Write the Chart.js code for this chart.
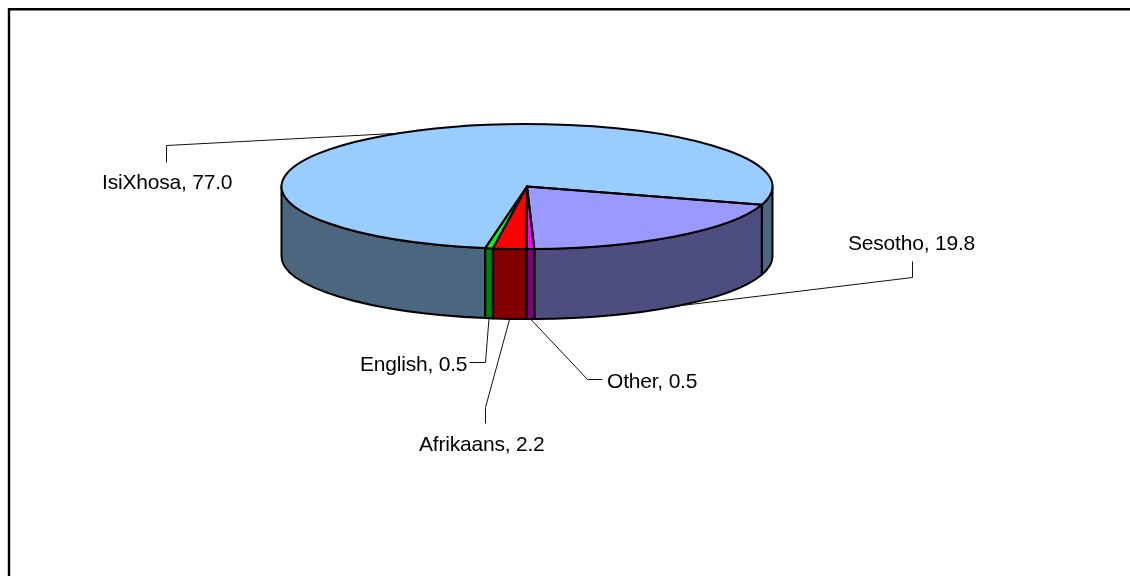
<!DOCTYPE html>
<html>
<head>
<meta charset="utf-8">
<title>Home language</title>
<script src="https://cdn.jsdelivr.net/npm/chart.js@4/dist/chart.umd.min.js"></script>
<style>
    html, body { margin: 0; padding: 0; background: #fff; }
    canvas { display: block; }
</style>
</head>
<body>
<canvas id="pie" width="1130" height="576"></canvas>
<script>
// --- data ---
const categories = ['IsiXhosa', 'Sesotho', 'Other', 'Afrikaans', 'English'];
const shares = [77.0, 19.8, 0.5, 2.2, 0.5];

// --- colours ---
const topColors = ['#99CCFF', '#9999FF', '#FF00FF', '#FF0000', '#00FF00'];
const sideColors = ['#4D6680', '#4D4D80', '#800080', '#800000', '#008000'];

// --- layout of the fake 3D pie ---
const CENTER_Y = 186.5;
const SQUASH = 62.5 / 245.5;
const DEPTH = 70;
const FONT = '21px "Liberation Sans", Arial, sans-serif';

// text position + leader line elbows, same order as categories
// onTop: the leader starts on the top rim instead of the bottom rim
const labelSpots = [
    { x: 102, y: 189, elbows: [[166, 145], [166, 162]], onTop: true },
    { x: 848, y: 250, elbows: [[912, 277], [912, 261]] },
    { x: 607, y: 388, elbows: [[587, 379], [602, 379]] },
    { x: 419, y: 451, elbows: [[485, 407], [485, 423]] },
    { x: 360, y: 371, elbows: [[485, 362], [469, 362]] }
];

function sidePath(ctx, cx, rx, ry, a, b) {
    ctx.beginPath();
    ctx.ellipse(cx, CENTER_Y, rx, ry, 0, a, b);
    ctx.lineTo(cx + rx * Math.cos(b), CENTER_Y + ry * Math.sin(b) + DEPTH);
    ctx.ellipse(cx, CENTER_Y + DEPTH, rx, ry, 0, b, a, true);
    ctx.closePath();
}

const pie3d = {
    id: 'pie3d',
    beforeDraw(chart) {
        // frame runs off the right and bottom of the picture
        const ctx = chart.ctx;
        ctx.save();
        ctx.strokeStyle = '#000';
        ctx.lineWidth = 2.4;
        ctx.beginPath();
        ctx.moveTo(9, chart.height);
        ctx.lineTo(9, 9.2);
        ctx.lineTo(chart.width, 9.2);
        ctx.stroke();
        ctx.restore();
    },
    beforeDatasetsDraw(chart) {
        const ctx = chart.ctx;
        const arcs = chart.getDatasetMeta(0).data;
        const first = arcs[0];
        const rx = first.outerRadius;
        const ry = rx * SQUASH;

        // side wall: only the part of each slice facing the viewer
        ctx.save();
        ctx.strokeStyle = '#000';
        ctx.lineWidth = 2;
        ctx.lineJoin = 'round';
        arcs.forEach((arc, i) => {
            for (let k = -1; k <= 2; k++) {
                const a = Math.max(arc.startAngle, k * 2 * Math.PI);
                const b = Math.min(arc.endAngle, k * 2 * Math.PI + Math.PI);
                if (b <= a) continue;
                sidePath(ctx, arc.x, rx, ry, a, b);
                ctx.fillStyle = sideColors[i];
                ctx.fill();
                ctx.stroke();
            }
        });
        ctx.restore();

        // squash the library's own circle into the top face
        ctx.save();
        ctx.translate(first.x, CENTER_Y);
        ctx.scale(1, SQUASH);
        ctx.translate(-first.x, -first.y);
    },
    afterDatasetsDraw(chart) {
        const ctx = chart.ctx;
        ctx.restore();

        const arcs = chart.getDatasetMeta(0).data;
        const rx = arcs[0].outerRadius;
        const ry = rx * SQUASH;

        // outlines of the top face
        ctx.save();
        ctx.strokeStyle = '#000';
        ctx.lineWidth = 2;
        ctx.lineJoin = 'round';
        arcs.forEach(arc => {
            ctx.beginPath();
            ctx.moveTo(arc.x, CENTER_Y);
            ctx.ellipse(arc.x, CENTER_Y, rx, ry, 0, arc.startAngle, arc.endAngle);
            ctx.closePath();
            ctx.stroke();
        });

        // leader lines and labels
        ctx.lineWidth = 1;
        ctx.strokeStyle = '#111';
        ctx.fillStyle = '#000';
        ctx.font = FONT;
        ctx.letterSpacing = '-0.2px';
        ctx.textBaseline = 'alphabetic';
        arcs.forEach((arc, i) => {
            const spot = labelSpots[i];
            const mid = (arc.startAngle + arc.endAngle) / 2;
            const startX = arc.x + rx * Math.cos(mid);
            const startY = CENTER_Y + ry * Math.sin(mid) + (spot.onTop ? 0 : DEPTH);
            ctx.beginPath();
            ctx.moveTo(startX, startY);
            spot.elbows.forEach(p => ctx.lineTo(p[0] + 0.5, p[1] + 0.5));
            ctx.stroke();
            ctx.fillText(`${categories[i]}, ${shares[i].toFixed(1)}`, spot.x, spot.y);
        });
        ctx.restore();
    }
};

new Chart(document.getElementById('pie'), {
    type: 'pie',
    data: {
        labels: categories,
        datasets: [{
            data: shares,
            backgroundColor: topColors,
            borderWidth: 0,
            clip: false
        }]
    },
    options: {
        responsive: false,
        animation: false,
        rotation: 189.8,
        layout: { padding: { left: 281.5, right: 357.5, top: 40, bottom: 45 } },
        plugins: {
            legend: { display: false },
            tooltip: { enabled: false }
        }
    },
    plugins: [pie3d]
});
</script>
</body>
</html>
